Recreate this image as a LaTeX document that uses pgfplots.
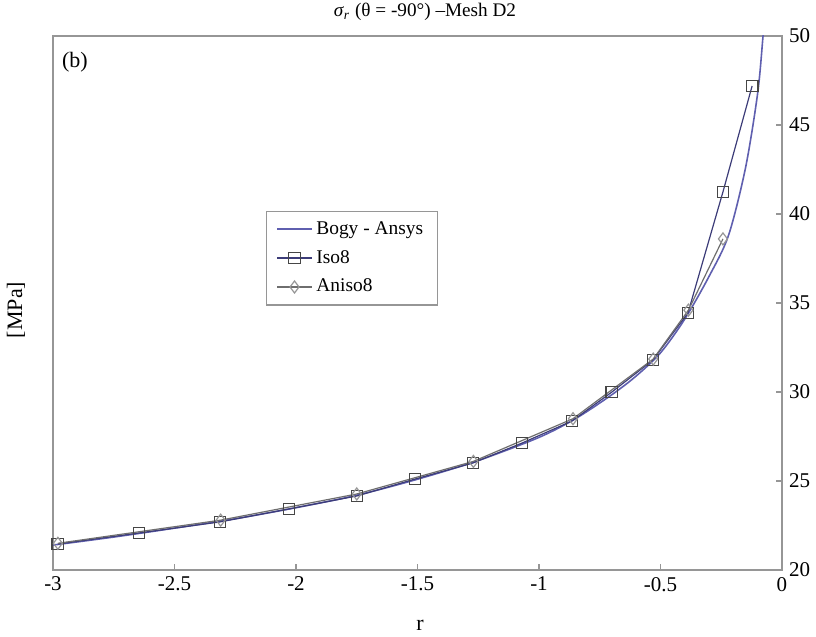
\documentclass[border=0pt]{standalone}
\usepackage{fontspec}
\setmainfont{Liberation Serif}
\usepackage{pgfplots}
\pgfplotsset{compat=1.18}
\definecolor{axgray}{RGB}{150,150,150}
\definecolor{bogy}{RGB}{95,95,175}
\definecolor{isoline}{RGB}{60,60,120}
\definecolor{isomark}{RGB}{70,70,70}
\definecolor{anisoline}{RGB}{110,110,110}
\definecolor{anisomark}{RGB}{150,150,150}
\begin{document}
\begin{tikzpicture}
\useasboundingbox (-26.5pt,-33.5pt) rectangle (381.5pt,285pt);
\begin{axis}[
  scale only axis,
  width=364.5pt, height=267pt,
  xmin=-3, xmax=0, ymin=20, ymax=50,
  xtick={-3,-2.5,-2,-1.5,-1,-0.5,0},
  ytick={20,25,30,35,40,45,50},
  xticklabels={-3,-2.5,-2,-1.5,-1,-0.5,0},
  yticklabels={20,25,30,35,40,45,50},
  ytick pos=right, yticklabel pos=right,
  xtick pos=bottom,
  tick align=inside,
  major tick length=3pt,
  axis line style={axgray, line width=0.9pt},
  tick style={axgray, line width=0.7pt},
  every tick label/.append style={font=\fontsize{10.5}{12}\selectfont},
  /pgf/number format/assume math mode=true,
  legend style={at={(0.41,0.584)}, anchor=center, draw=axgray, line width=0.6pt,
    font=\fontsize{9.7}{11}\selectfont, inner xsep=5pt, inner ysep=3pt,
    row sep=2.5pt, legend cell align=left},
  legend cell align=left,
]
\addplot[bogy, line width=0.8pt, smooth, tension=0.5,
  legend image code/.code={\draw[bogy, line width=0.8pt] (0cm,0cm) -- (0.6cm,0cm);}] coordinates {
(-3,21.4) (-2.75,21.85) (-2.5,22.35) (-2.25,22.88) (-2.0,23.5) (-1.75,24.2)
(-1.5,25.1) (-1.25,26.15) (-1.0,27.45) (-0.85,28.5) (-0.7,29.85) (-0.6,30.9)
(-0.5,32.2) (-0.4,34.1) (-0.3,36.5) (-0.22,38.8) (-0.15,42.6) (-0.1,46.8)
(-0.078,50) (-0.065,52)
};
\addlegendentry{Bogy - Ansys}
\addplot[isoline, line width=0.6pt, mark=square, mark size=2.9pt,
  mark options={isomark, line width=0.6pt, fill=none}] coordinates {
(-2.98,21.46) (-2.646,22.08) (-2.313,22.70) (-2.029,23.43) (-1.749,24.16)
(-1.510,25.11) (-1.272,26.01) (-1.070,27.13) (-0.864,28.37) (-0.700,30.0)
(-0.531,31.80) (-0.387,34.44) (-0.243,41.24) (-0.123,47.19)
};
\addlegendentry{Iso8}
\addplot[anisoline, line width=0.6pt, mark=diamond, mark size=3pt,
  mark options={anisomark, line width=0.6pt, fill=none}] coordinates {
(-2.98,21.5) (-2.31,22.8) (-1.75,24.27) (-1.27,26.1) (-0.86,28.5)
(-0.53,31.85) (-0.385,34.6) (-0.243,38.6)
};
\addlegendentry{Aniso8}
\end{axis}
\node[anchor=center, font=\fontsize{9.6}{11}\selectfont] at (186pt,279pt)
  {\textit{σ}\textsubscript{\textit{r}} (θ = -90°) –Mesh D2};
\node[anchor=center, font=\fontsize{11}{13}\selectfont] at (11pt,254pt) {(b)};
\node[anchor=center, rotate=90, font=\fontsize{11}{13}\selectfont] at (-18.5pt,130pt) {[MPa]};
\node[anchor=center, font=\fontsize{11}{13}\selectfont] at (183.5pt,-27.5pt) {r};
\end{tikzpicture}
\end{document}
